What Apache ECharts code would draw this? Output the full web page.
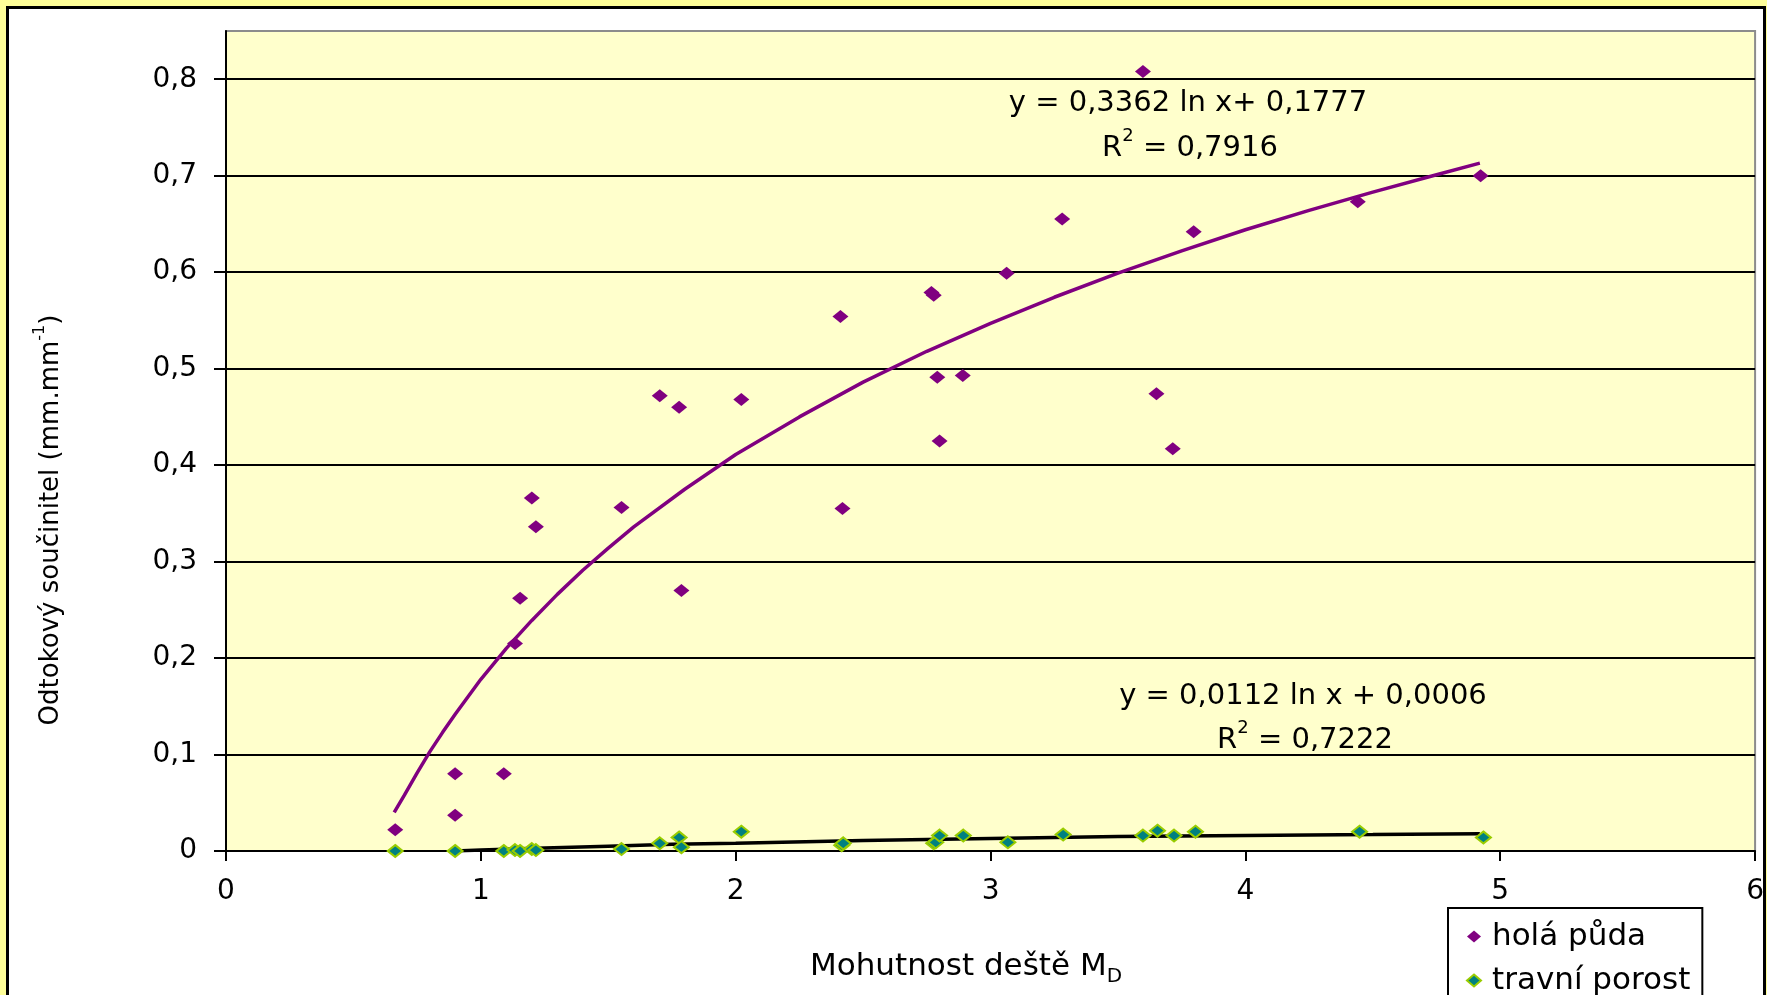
<!DOCTYPE html>
<html>
<head>
<meta charset="utf-8">
<script src="https://cdn.jsdelivr.net/npm/echarts@6/dist/echarts.min.js"></script>
<style>
  html, body { margin: 0; padding: 0; background: #ffff99; width: 1767px; height: 995px; overflow: hidden; }
  #frame { position: absolute; left: 6px; top: 6px; width: 1760px; height: 1010px; box-sizing: border-box; border: 3px solid #000; background: #ffffff; }
  #chart { position: absolute; left: 0; top: 0; width: 1767px; height: 995px; }
</style>
</head>
<body>
<div id="frame"></div>
<div id="chart"></div>
<script>
// ---- data ----
const holaX = [0.664, 0.899, 0.899, 1.090, 1.154, 1.134, 1.200, 1.216, 1.552, 1.702, 1.778, 1.787, 2.022, 2.411, 2.419, 2.768, 2.777, 2.791, 2.800, 2.891, 3.063, 3.281, 3.598, 3.651, 3.715, 3.797, 4.441, 4.923];
const holaY = [0.022, 0.080, 0.037, 0.080, 0.262, 0.215, 0.366, 0.336, 0.356, 0.472, 0.460, 0.270, 0.468, 0.554, 0.355, 0.579, 0.576, 0.491, 0.425, 0.493, 0.599, 0.655, 0.808, 0.474, 0.417, 0.642, 0.673, 0.700];

const travX = [0.664, 0.899, 1.090, 1.134, 1.154, 1.200, 1.216, 1.552, 1.702, 1.778, 1.787, 2.022, 2.416, 2.422, 2.777, 2.785, 2.800, 2.893, 3.068, 3.285, 3.598, 3.655, 3.720, 3.804, 4.448, 4.934];
const travY = [0.000, 0.000, 0.000, 0.001, 0.000, 0.002, 0.001, 0.002, 0.008, 0.014, 0.004, 0.020, 0.006, 0.008, 0.008, 0.009, 0.016, 0.016, 0.009, 0.017, 0.016, 0.021, 0.016, 0.020, 0.020, 0.014];

// trend lines
const trendHolaX = [0.66, 0.70, 0.75, 0.80, 0.85, 0.90, 1.0, 1.1, 1.2, 1.3, 1.4, 1.5, 1.6, 1.8, 2.0, 2.25, 2.5, 2.75, 3.0, 3.25, 3.5, 3.75, 4.0, 4.25, 4.5, 4.75, 4.92];
const trendHolaY = [0.040, 0.058, 0.081, 0.103, 0.123, 0.142, 0.178, 0.210, 0.239, 0.266, 0.291, 0.314, 0.336, 0.375, 0.411, 0.450, 0.486, 0.518, 0.547, 0.574, 0.599, 0.622, 0.644, 0.664, 0.683, 0.701, 0.713];
const trendTravX = [0.90, 1.0, 1.25, 1.5, 1.75, 2.0, 2.5, 3.0, 3.5, 4.0, 4.5, 4.92];
const trendTravY = [0.000, 0.001, 0.003, 0.005, 0.007, 0.008, 0.011, 0.013, 0.015, 0.016, 0.017, 0.018];

const yTickValues = [0, 0.1, 0.2, 0.3, 0.4, 0.5, 0.6, 0.7, 0.8];
const xTickValues = [0, 1, 2, 3, 4, 5, 6];
const seriesNames = ['holá půda', 'travní porost'];
const eq1 = ['y = 0,3362 ln x+ 0,1777', '0,7916'];
const eq2 = ['y = 0,0112 ln x + 0,0006', '0,7222'];

const zip = (a, b) => a.map((v, i) => [v, b[i]]);
const FONT = 'DejaVu Sans';

const chart = echarts.init(document.getElementById('chart'), null, { renderer: 'canvas' });
chart.setOption({
  backgroundColor: 'transparent',
  animation: false,
  textStyle: { fontFamily: FONT, color: '#000' },
  grid: {
    left: 226, right: 10, top: 31, bottom: 144,
    show: true, backgroundColor: '#ffffcc', borderColor: '#8c8c8c', borderWidth: 2
  },
  xAxis: {
    type: 'value', min: 0, max: 6, interval: 1,
    axisLine: { show: true, onZero: false, lineStyle: { color: '#000', width: 2 } },
    axisTick: { show: true, inside: false, length: 10, lineStyle: { color: '#000', width: 2 }, customValues: xTickValues },
    axisLabel: { fontSize: 28, fontFamily: FONT, color: '#000', margin: 27, customValues: xTickValues },
    splitLine: { show: false }
  },
  yAxis: {
    type: 'value', min: 0, max: 0.85, interval: 0.1,
    axisLine: { show: true, lineStyle: { color: '#000', width: 2 } },
    axisTick: { show: true, inside: false, length: 12, lineStyle: { color: '#000', width: 2 }, customValues: yTickValues },
    axisLabel: {
      fontSize: 28, fontFamily: FONT, color: '#000', margin: 29, customValues: yTickValues,
      formatter: v => v === 0 ? '0' : v.toFixed(1).replace('.', ',')
    },
    splitLine: { show: true, lineStyle: { color: '#000', width: 2 } }
  },
  legend: {
    data: seriesNames,
    orient: 'vertical',
    left: 1448, top: 908,
    width: 220, height: 140,
    backgroundColor: '#ffffff',
    borderColor: '#000', borderWidth: 2,
    padding: [13, 12, 14, 18],
    itemGap: 13,
    itemWidth: 14, itemHeight: 12,
    textStyle: { fontSize: 31, fontFamily: FONT, color: '#000', padding: [0, 0, 0, 6] }
  },
  series: [
    {
      name: 'trend1', type: 'line', data: zip(trendHolaX, trendHolaY),
      showSymbol: false, symbol: 'none', smooth: false, z: 3,
      lineStyle: { color: '#800080', width: 3.5 }, silent: true
    },
    {
      name: 'trend2', type: 'line', data: zip(trendTravX, trendTravY),
      showSymbol: false, symbol: 'none', smooth: false, z: 3,
      lineStyle: { color: '#000000', width: 3.5 }, silent: true
    },
    {
      name: seriesNames[0], type: 'scatter', data: zip(holaX, holaY),
      symbol: 'diamond', symbolSize: [16, 13], z: 5,
      itemStyle: { color: '#800080', opacity: 1 }
    },
    {
      name: seriesNames[1], type: 'scatter', data: zip(travX, travY),
      symbol: 'diamond', symbolSize: [15, 12], z: 5,
      itemStyle: { color: '#008080', borderColor: '#99cc00', borderWidth: 2, opacity: 1 }
    }
  ],
  graphic: [
    {
      type: 'text', x: 48, y: 520, rotation: Math.PI / 2, z: 10,
      style: {
        text: '{m|Odtokový součinitel (mm.mm}{s|-1}{m|)}',
        align: 'center', verticalAlign: 'middle',
        fontFamily: FONT, fill: '#000',
        rich: {
          m: { fontSize: 26, fontFamily: FONT, lineHeight: 32, verticalAlign: 'bottom' },
          s: { fontSize: 16, fontFamily: FONT, lineHeight: 32, verticalAlign: 'top' }
        }
      }
    },
    {
      type: 'text', x: 966, y: 967, z: 10,
      style: {
        text: '{m|Mohutnost deště M}{s|D}',
        align: 'center', verticalAlign: 'middle',
        fontFamily: FONT, fill: '#000',
        rich: {
          m: { fontSize: 31, fontFamily: FONT, lineHeight: 40, verticalAlign: 'middle' },
          s: { fontSize: 20, fontFamily: FONT, lineHeight: 20, verticalAlign: 'bottom' }
        }
      }
    },
    {
      type: 'text', x: 1188, y: 103, z: 10,
      style: { text: eq1[0], align: 'center', verticalAlign: 'middle', fontSize: 29, fontFamily: FONT, fill: '#000' }
    },
    {
      type: 'text', x: 1190, y: 145, z: 10,
      style: {
        text: '{m|R}{s|2}{m| = ' + eq1[1] + '}',
        align: 'center', verticalAlign: 'middle', fill: '#000', fontFamily: FONT,
        rich: {
          m: { fontSize: 29, fontFamily: FONT, lineHeight: 36, verticalAlign: 'bottom' },
          s: { fontSize: 18, fontFamily: FONT, lineHeight: 36, verticalAlign: 'top' }
        }
      }
    },
    {
      type: 'text', x: 1303, y: 696, z: 10,
      style: { text: eq2[0], align: 'center', verticalAlign: 'middle', fontSize: 29, fontFamily: FONT, fill: '#000' }
    },
    {
      type: 'text', x: 1305, y: 737, z: 10,
      style: {
        text: '{m|R}{s|2}{m| = ' + eq2[1] + '}',
        align: 'center', verticalAlign: 'middle', fill: '#000', fontFamily: FONT,
        rich: {
          m: { fontSize: 29, fontFamily: FONT, lineHeight: 36, verticalAlign: 'bottom' },
          s: { fontSize: 18, fontFamily: FONT, lineHeight: 36, verticalAlign: 'top' }
        }
      }
    }
  ]
});
</script>
</body>
</html>
